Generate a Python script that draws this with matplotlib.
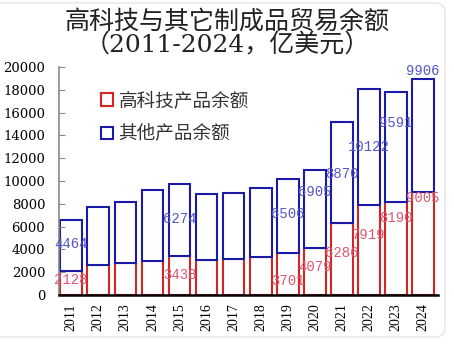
import numpy as np
import matplotlib
matplotlib.use("Agg")
import matplotlib.pyplot as plt
from matplotlib.patches import Patch, FancyBboxPatch

plt.rcParams['font.family'] = ['Noto Sans CJK SC', 'DejaVu Sans']

# data (100 million USD)
years = [str(y) for y in range(2011, 2025)]
hightech = [2128, 2632, 2807, 2982, 3438, 3070, 3158, 3333, 3701, 4079, 6286, 7919, 8190, 9005]
others = [4464, 5087, 5351, 6228, 6274, 5790, 5789, 6053, 6506, 6905, 8870, 10122, 9591, 9906]
labelled = ['2011', '2015', '2019', '2020', '2021', '2022', '2023', '2024']

# where the value labels sit, as fraction of their own segment
red_lab_frac = [0.62, 0.51, 0.32, 0.61, 0.59, 0.66, 0.83, 0.94]
blue_lab_frac = [0.52, 0.52, 0.52, 0.72, 0.49, 0.50, 0.72, 1.07]

red_edge = '#d42525'
blue_edge = '#1a1aa8'

fig = plt.figure(figsize=(4.54, 3.46), dpi=100)
ax = fig.add_axes([0.130, 0.1474, 0.8348, 0.659])

x = np.arange(len(years))
ax.bar(x, hightech, width=0.8, facecolor='white', edgecolor=red_edge, linewidth=1.5)
ax.bar(x, others, width=0.8, bottom=hightech, facecolor='white', edgecolor=blue_edge, linewidth=1.5)

for k, yr in enumerate(labelled):
    i = years.index(yr)
    ax.text(i, hightech[i] * red_lab_frac[k], str(hightech[i]), ha='center', va='center',
            fontsize=10, color='#e0566e', family='Liberation Mono')
    ax.text(i, hightech[i] + others[i] * blue_lab_frac[k], str(others[i]), ha='center', va='center',
            fontsize=10, color='#5555c8', family='Liberation Mono')

ax.set_xlim(-0.45, 13.55)
ax.set_ylim(0, 20000)
ax.set_yticks(np.arange(0, 20001, 2000))
ax.set_yticklabels([str(v) for v in range(0, 20001, 2000)], family='DejaVu Serif', fontsize=9.5)
ax.set_xticks(x)
ax.set_xticklabels(years, rotation=90, family='Liberation Serif', fontsize=10)
ax.tick_params(axis='y', direction='in', length=4, color='#888888', pad=10)
ax.tick_params(axis='x', length=0, pad=6)
for s in ['top', 'right']:
    ax.spines[s].set_visible(False)
ax.spines['left'].set_color('#888888')
ax.spines['left'].set_linewidth(1.2)
ax.spines['bottom'].set_color('black')
ax.spines['bottom'].set_linewidth(1.8)

handles = [Patch(facecolor='white', edgecolor=red_edge, linewidth=1.5),
           Patch(facecolor='white', edgecolor=blue_edge, linewidth=1.5)]
ax.legend(handles, ['高科技产品余额', '其他产品余额'], loc='upper left', bbox_to_anchor=(0.11, 0.89),
          frameon=False, fontsize=13.4, handlelength=0.65, handleheight=0.65, handletextpad=0.3,
          labelspacing=0.82, borderpad=0, borderaxespad=0, labelcolor='#333333')

fig.text(0.5, 0.905, '高科技与其它制成品贸易余额\n（2011-2024，亿美元）', ha='center', va='center',
         fontsize=18, color='#222222', linespacing=0.95,
         family=['DejaVu Serif', 'Noto Sans CJK SC'])

card = FancyBboxPatch((-20, 9), 465, 334, boxstyle='round,pad=0,rounding_size=10',
                      transform=None, facecolor='none', edgecolor='#e6e6e6', linewidth=1)
fig.patches.append(card)

fig.savefig('out.png', dpi=100)
